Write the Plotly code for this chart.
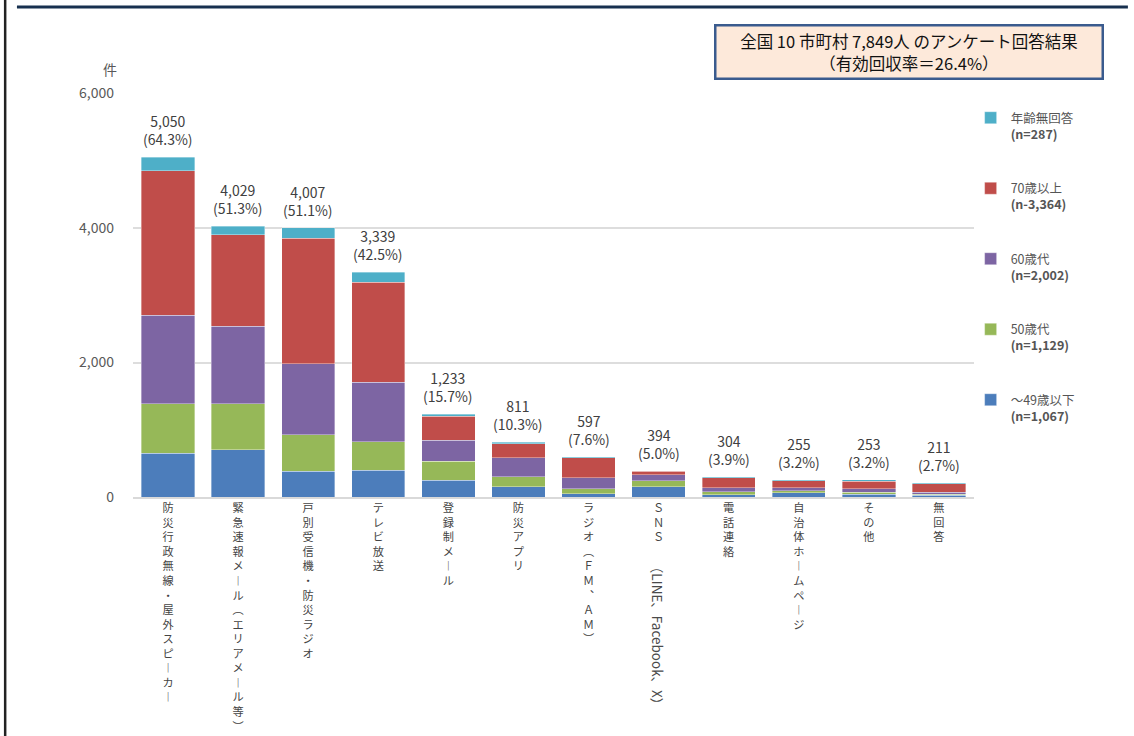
import plotly.graph_objects as go

# ---------------- data ----------------
categories = [
    "防災行政無線・屋外スピーカー",
    "緊急速報メール（エリアメール等）",
    "戸別受信機・防災ラジオ",
    "テレビ放送",
    "登録制メール",
    "防災アプリ",
    "ラジオ（ＦＭ、ＡＭ）",
    "ＳＮＳ（LINE、Facebook、X）",
    "電話連絡",
    "自治体ホームページ",
    "その他",
    "無回答",
]
age_under49 = [650, 700, 380, 400, 250, 150, 52, 150, 35, 60, 40, 25]
age_50s = [740, 690, 545, 420, 282, 150, 70, 95, 45, 35, 30, 15]
age_60s = [1315, 1150, 1055, 885, 312, 282, 163, 85, 55, 40, 50, 30]
age_70plus = [2150, 1360, 1865, 1490, 358, 212, 298, 55, 155, 110, 115, 125]
age_unknown = [195, 129, 162, 144, 31, 17, 14, 9, 14, 10, 18, 16]
totals = [5050, 4029, 4007, 3339, 1233, 811, 597, 394, 304, 255, 253, 211]
respondents = 7849

series_names = ["～49歳以下", "50歳代", "60歳代", "70歳以上", "年齢無回答"]
series_n = ["(n=1,067)", "(n=1,129)", "(n=2,002)", "(n-3,364)", "(n=287)"]
series_values = [age_under49, age_50s, age_60s, age_70plus, age_unknown]
series_colors = ["#4C7DBB", "#96B858", "#7D65A3", "#C04D4A", "#4EAFC8"]

title_lines = ["全国 10 市町村 7,849人 のアンケート回答結果", "（有効回収率＝26.4%）"]
y_ticks = [0, 2000, 4000, 6000]
y_unit = "件"

FONT = "Noto Sans CJK JP"

# vertical-writing helper
VERT = {"ー": "︱", "（": "︵", "）": "︶", "、": "︑"}


def vertical(label):
    return "<br>".join(VERT.get(c, c) for c in label)


tick_text = []
rotated_parts = []
for lab in categories:
    if lab.startswith("ＳＮＳ"):
        head, tail = lab[:3], lab[3:]
        tick_text.append(vertical(head))
        rotated_parts.append((lab, tail))
    else:
        tick_text.append(vertical(lab))

fig = go.Figure()
n_series = len(series_names)
for k, (name, n, vals, col) in enumerate(zip(series_names, series_n, series_values, series_colors)):
    fig.add_trace(go.Bar(
        x=categories, y=vals,
        name=f"{name}<br><b>{n}</b>",
        legendgroup=name,
        legendrank=n_series - k,
        marker=dict(color=col, line=dict(width=0.6, color="rgba(255,255,255,0.6)")),
        hovertemplate="%{x}: %{y}<extra>" + name + "</extra>",
    ))

annotations = []
for cat, tot in zip(categories, totals):
    pct = tot / respondents * 100
    annotations.append(dict(
        x=cat, y=tot, xref="x", yref="y",
        text=f"{tot:,}<br>({pct:.1f}%)",
        showarrow=False, yanchor="bottom", yshift=6,
        font=dict(family=FONT, size=14, color="#404040"),
    ))

for cat, tail in rotated_parts:
    annotations.append(dict(
        x=cat, y=0, xref="x", yref="paper",
        text=tail, textangle=90, showarrow=False,
        yanchor="top", yshift=-61,
        font=dict(family=FONT, size=13.5, color="#4a4a4a"),
    ))

annotations.append(dict(
    x=0, y=1, xref="paper", yref="paper", text=y_unit, showarrow=False,
    xanchor="center", yanchor="middle",
    xshift=-23, yshift=24, font=dict(family=FONT, size=14, color="#595959"),
))

annotations.append(dict(
    x=0.923, y=1.1026, xref="paper", yref="paper",
    text="<br>".join(title_lines), showarrow=False,
    xanchor="center", yanchor="middle",
    width=383, height=49,
    bgcolor="#FDE9DA", bordercolor="#3A5B8E", borderwidth=2.5,
    font=dict(family=FONT, size=16.5, color="#111111"),
))

shapes = [
    dict(type="line", xref="paper", yref="paper",
         x0=-0.138, x1=1.183, y0=1.2126, y1=1.2126,
         line=dict(color="#17304F", width=3)),
    dict(type="line", xref="paper", yref="paper",
         x0=-0.152, x1=-0.152, y0=-0.60, y1=1.24,
         line=dict(color="#222222", width=2.5)),
]

fig.update_layout(
    width=1134, height=736,
    barmode="stack", bargap=0.24,
    plot_bgcolor="white", paper_bgcolor="white",
    margin=dict(l=133, r=160, t=93, b=238.5, autoexpand=False),
    font=dict(family=FONT, color="#444444"),
    xaxis=dict(
        tickmode="array", tickvals=categories, ticktext=tick_text,
        tickangle=0, showgrid=False, showline=True,
        linecolor="#D9D9D9", linewidth=1.5,
        tickfont=dict(family=FONT, size=11.2, color="#444444"),
        ticks="", range=[-0.5, 11.5],
    ),
    yaxis=dict(
        range=[0, 6008], tickvals=y_ticks,
        ticktext=[f"{v:,}" for v in y_ticks],
        showgrid=True, gridcolor="#DDDDDD", gridwidth=1.5,
        zeroline=False, ticks="", ticklabelstandoff=18,
        tickfont=dict(family=FONT, size=14, color="#595959"),
    ),
    legend=dict(
        x=0.996, xanchor="left", y=0.975, yanchor="top",
        traceorder="grouped", tracegroupgap=35, valign="top",
        itemwidth=30,
        font=dict(family=FONT, size=12.5, color="#555555"),
        bgcolor="rgba(0,0,0,0)",
    ),
    annotations=annotations,
    shapes=shapes,
    showlegend=True,
)

fig.write_html(
    "out.html",
    config={"displayModeBar": False},
    post_script="document.body.style.margin='0';document.body.style.padding='0';",
)
